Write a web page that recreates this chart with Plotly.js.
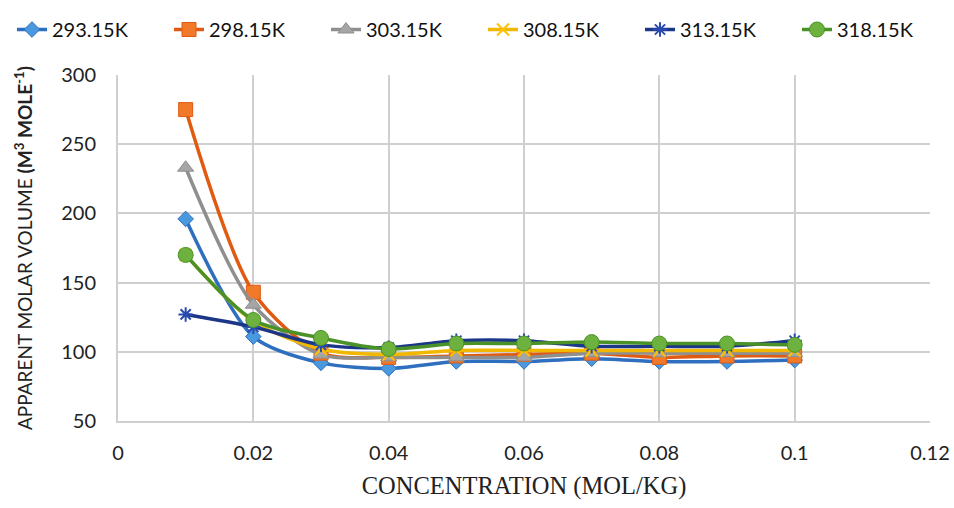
<!DOCTYPE html>
<html>
<head>
<meta charset="utf-8">
<script src="https://cdn.plot.ly/plotly-3.0.1.min.js"></script>
<style>html,body{margin:0;padding:0;background:#fff;}#chart{width:954px;height:508px;}</style>
</head>
<body>
<div id="chart"></div>
<script>
const concentration = [0.01, 0.02, 0.03, 0.04, 0.05, 0.06, 0.07, 0.08, 0.09, 0.1];
const seriesNames = ["293.15K", "298.15K", "303.15K", "308.15K", "313.15K", "318.15K"];
const v293 = [196, 111, 92, 88, 93, 93, 95, 93, 93, 94];
const v298 = [275, 143, 99, 96, 97, 98, 99, 96, 97, 97];
const v303 = [233, 134, 98, 96, 96, 96, 99, 99, 99, 99];
const v308 = [170, 122, 102, 98, 101, 101, 101, 101, 101, 101];
const v313 = [127, 118, 105, 103, 108, 108, 104, 104, 104, 108];
const v318 = [170, 123, 110, 102, 106, 106, 107, 106, 106, 105];
const xTicks = [0, 0.02, 0.04, 0.06, 0.08, 0.1, 0.12];
const xTickText = ["0", "0.02", "0.04", "0.06", "0.08", "0.1", "0.12"];
const yTicks = [50, 100, 150, 200, 250, 300];

const values = [v293, v298, v303, v308, v313, v318];
const lineColors = ["#2E6FBF", "#E05A12", "#8F8F8F", "#F2B800", "#1C3688", "#4A9127"];
const markerColors = ["#4A98DE", "#F07A2A", "#A5A5A5", "#FFC000", "#2A4BAE", "#6DB23E"];
const symbols = ["diamond", "square", "triangle-up", "x-thin-open", "asterisk-open", "circle"];
const sizes = [12, 14, 14, 12, 12, 15];

const traces = values.map((v, i) => ({
  x: concentration, y: v, name: seriesNames[i], type: "scatter", mode: "lines+markers",
  legend: i < 3 ? "legend" : "legend2",
  line: {color: lineColors[i], width: 3.5, shape: "spline", smoothing: 0.8},
  marker: {symbol: symbols[i], size: sizes[i], color: markerColors[i],
           line: {color: (i === 3 || i === 4) ? markerColors[i] : lineColors[i], width: (i === 3 || i === 4) ? 2 : 1}}
}));

const legendBase = {orientation: "h", xref: "container", xanchor: "left", y: 1 - 10 / 508, yref: "container", yanchor: "top",
  font: {size: 20, family: "Lato, sans-serif", color: "#111"}, itemwidth: 30, tracegroupgap: 0,
  entrywidth: 112, entrywidthmode: "pixels", bgcolor: "rgba(0,0,0,0)"};

const layout = {
  width: 954, height: 508,
  margin: {l: 118, r: 24, t: 75, b: 87},
  paper_bgcolor: "#fff", plot_bgcolor: "#fff",
  font: {family: "Lato, 'Noto Sans', sans-serif", color: "#222"},
  showlegend: true,
  legend: Object.assign({}, legendBase, {x: 12 / 954}),
  legend2: Object.assign({}, legendBase, {x: 483 / 954}),
  xaxis: {
    range: [0, 0.12], tickvals: xTicks, ticktext: xTickText,
    showgrid: true, gridcolor: "#cfcfcf", gridwidth: 2,
    zeroline: false, showline: true, linecolor: "#cfcfcf", linewidth: 2,
    ticks: "", ticklabelstandoff: 13,
    tickfont: {size: 20, family: "Lato, sans-serif", color: "#222"},
    title: {text: "CONCENTRATION (MOL/KG)", font: {size: 24.5, family: "'Liberation Serif', serif", color: "#222"}, standoff: 14}
  },
  yaxis: {
    range: [50, 300], tickvals: yTicks,
    showgrid: true, gridcolor: "#cfcfcf", gridwidth: 2,
    zeroline: false, showline: true, linecolor: "#cfcfcf", linewidth: 2,
    ticks: "", ticklabelstandoff: 16,
    tickfont: {size: 20, family: "Lato, sans-serif", color: "#222"},
    title: {text: "APPARENT MOLAR VOLUME <b>(M<sup>3</sup> MOLE<sup>-1</sup>)</b>", font: {size: 19, family: "Lato, sans-serif", color: "#222"}, standoff: 24}
  }
};

Plotly.newPlot("chart", traces, layout, {displayModeBar: false, staticPlot: true});
</script>
</body>
</html>
